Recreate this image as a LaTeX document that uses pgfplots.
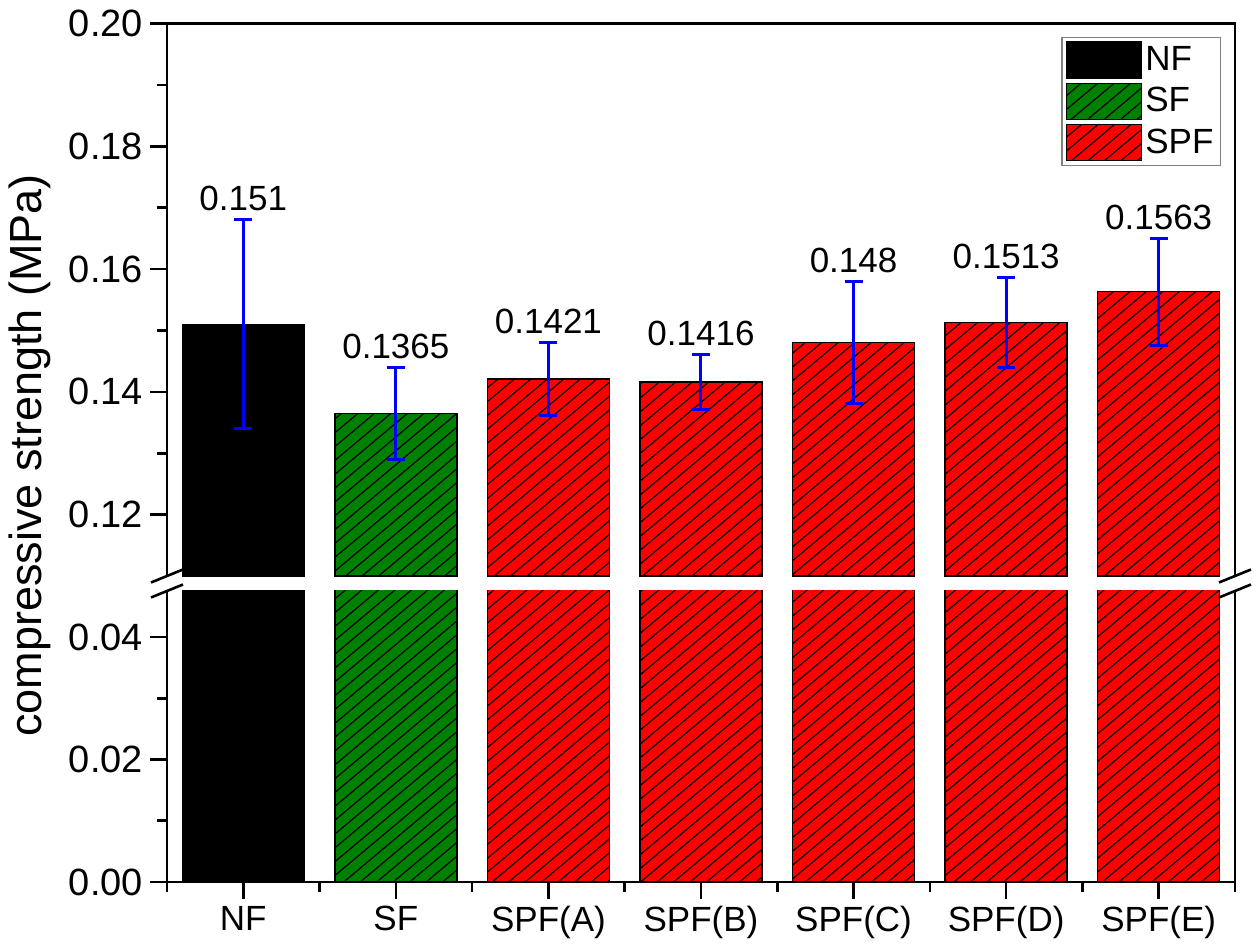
\documentclass[border=0pt]{standalone}
\usepackage{pgfplots}
\pgfplotsset{compat=1.18}
\usepackage{pgfplotstable}
\usepackage{fontspec}
\setmainfont{Liberation Sans}
\usetikzlibrary{patterns.meta}

\definecolor{sfgreen}{RGB}{0,128,0}
\definecolor{spfred}{RGB}{255,0,0}
\definecolor{errblue}{RGB}{0,0,255}

\pgfplotstableread{
x y err label
0 0.1510 0.0170 0.151
}\tabNF
\pgfplotstableread{
x y err label
1 0.1365 0.0075 0.1365
}\tabSF
\pgfplotstableread{
x y err label
2 0.1421 0.0060 0.1421
3 0.1416 0.0045 0.1416
4 0.1480 0.0099 0.148
5 0.1513 0.0073 0.1513
6 0.1563 0.0087 0.1563
}\tabSPF

\tikzset{brkline/.style={line width=1.3pt, black}}

\pgfplotsset{
  brk/.style={
    width=534pt, scale only axis,
    xmin=-0.5, xmax=6.5,
    clip mode=individual,
    axis line style={draw=none},
    tick align=outside, tick pos=left,
    major tick length=8.5pt, minor tick length=5pt,
    major tick style={black, line width=1.3pt},
    minor tick style={black, line width=1.3pt},
    tick label style={font=\fontsize{19}{22}\selectfont},
    /pgf/number format/assume math mode=true,
    y tick label style={/pgf/number format/.cd, fixed, fixed zerofill, precision=2, /tikz/.cd},
    scaled y ticks=false,
  },
  barNF/.style={ybar, bar width=0.8, bar shift=0pt, fill=black, draw=black, line width=0.7pt},
  barSF/.style={ybar, bar width=0.8, bar shift=0pt, fill=sfgreen, draw=black, line width=0.7pt,
    postaction={pattern={Lines[angle=40,distance=5.3pt,line width=0.6pt]}}},
  barSPF/.style={ybar, bar width=0.8, bar shift=0pt, fill=spfred, draw=black, line width=0.7pt,
    postaction={pattern={Lines[angle=40,distance=5.3pt,line width=0.6pt]}}},
  errs/.style={error bars/.cd, y dir=both, y explicit,
    error bar style={errblue, line width=1.5pt},
    error mark options={errblue, line width=1.5pt, mark size=4.5pt, rotate=90}},
}

\begin{document}
\begin{tikzpicture}
\useasboundingbox (-83.5pt,-33.5pt) rectangle (546.5pt,441pt);
% lower axis
\begin{axis}[brk, at={(0,0)}, anchor=south west, height=145.5pt,
  ymin=0, ymax=0.0475, ytick={0,0.02,0.04}, minor ytick={0.01,0.03},
  xtick={0,1,2,3,4,5,6},
  xticklabels={NF,SF,SPF(A),SPF(B),SPF(C),SPF(D),SPF(E)},
  minor xtick={-0.5,0.5,1.5,2.5,3.5,4.5,5.5,6.5},
  xticklabel style={font=\fontsize{17.5}{20}\selectfont},
]
\addplot[barNF] table[x=x,y=y]{\tabNF};
\addplot[barSF] table[x=x,y=y]{\tabSF};
\addplot[barSPF] table[x=x,y=y]{\tabSPF};
\draw[brkline, line join=miter] (rel axis cs:0,1) -- (rel axis cs:0,0) -- (rel axis cs:1,0) -- (rel axis cs:1,1);
\draw[brkline] ([xshift=-8pt,yshift=-3.25pt]rel axis cs:0,1) -- ([xshift=8pt,yshift=3.25pt]rel axis cs:0,1);
\draw[brkline] ([xshift=-8pt,yshift=-3.25pt]rel axis cs:1,1) -- ([xshift=8pt,yshift=3.25pt]rel axis cs:1,1);
\end{axis}
% upper axis
\begin{axis}[brk, at={(0,153pt)}, anchor=south west, height=276.25pt,
  ymin=0.11, ymax=0.20, ytick={0.12,0.14,0.16,0.18,0.20}, minor ytick={0.13,0.15,0.17,0.19},
  xtick=\empty, minor xtick={},
  ylabel={compressive strength (MPa)},
  every axis y label/.style={at={(axis description cs:-0.128,0.218)}, rotate=90, anchor=center, font=\fontsize{22.5}{26}\selectfont},
  legend style={at={(1,1)}, anchor=north east, xshift=-7pt, yshift=-6.5pt,
    draw=gray, line width=0.6pt, font=\fontsize{17.5}{20}\selectfont,
    inner sep=2pt, row sep=2pt, nodes={inner sep=1.5pt}},
  legend cell align=left,
  legend image code/.code={\draw[#1] (0pt,-9pt) rectangle (37.5pt,9pt);},
  nodes near coords, point meta=explicit symbolic,
  visualization depends on={\thisrow{err}\as\myerr},
  every node near coord/.append style={font=\fontsize{17.5}{20}\selectfont, black, anchor=south, inner sep=0pt, shift={(axis direction cs:0,\myerr)}, yshift=4pt},
]
\addplot[barNF, errs] table[x=x,y=y,y error=err,meta=label]{\tabNF};
\addplot[barSF, errs] table[x=x,y=y,y error=err,meta=label]{\tabSF};
\addplot[barSPF, errs] table[x=x,y=y,y error=err,meta=label]{\tabSPF};
\legend{NF,SF,SPF}
\draw[brkline, line join=miter] (rel axis cs:0,0) -- (rel axis cs:0,1) -- (rel axis cs:1,1) -- (rel axis cs:1,0);
\draw[brkline] ([xshift=-8pt,yshift=-3.25pt]rel axis cs:0,0) -- ([xshift=8pt,yshift=3.25pt]rel axis cs:0,0);
\draw[brkline] ([xshift=-8pt,yshift=-3.25pt]rel axis cs:1,0) -- ([xshift=8pt,yshift=3.25pt]rel axis cs:1,0);
\end{axis}
\end{tikzpicture}
\end{document}
